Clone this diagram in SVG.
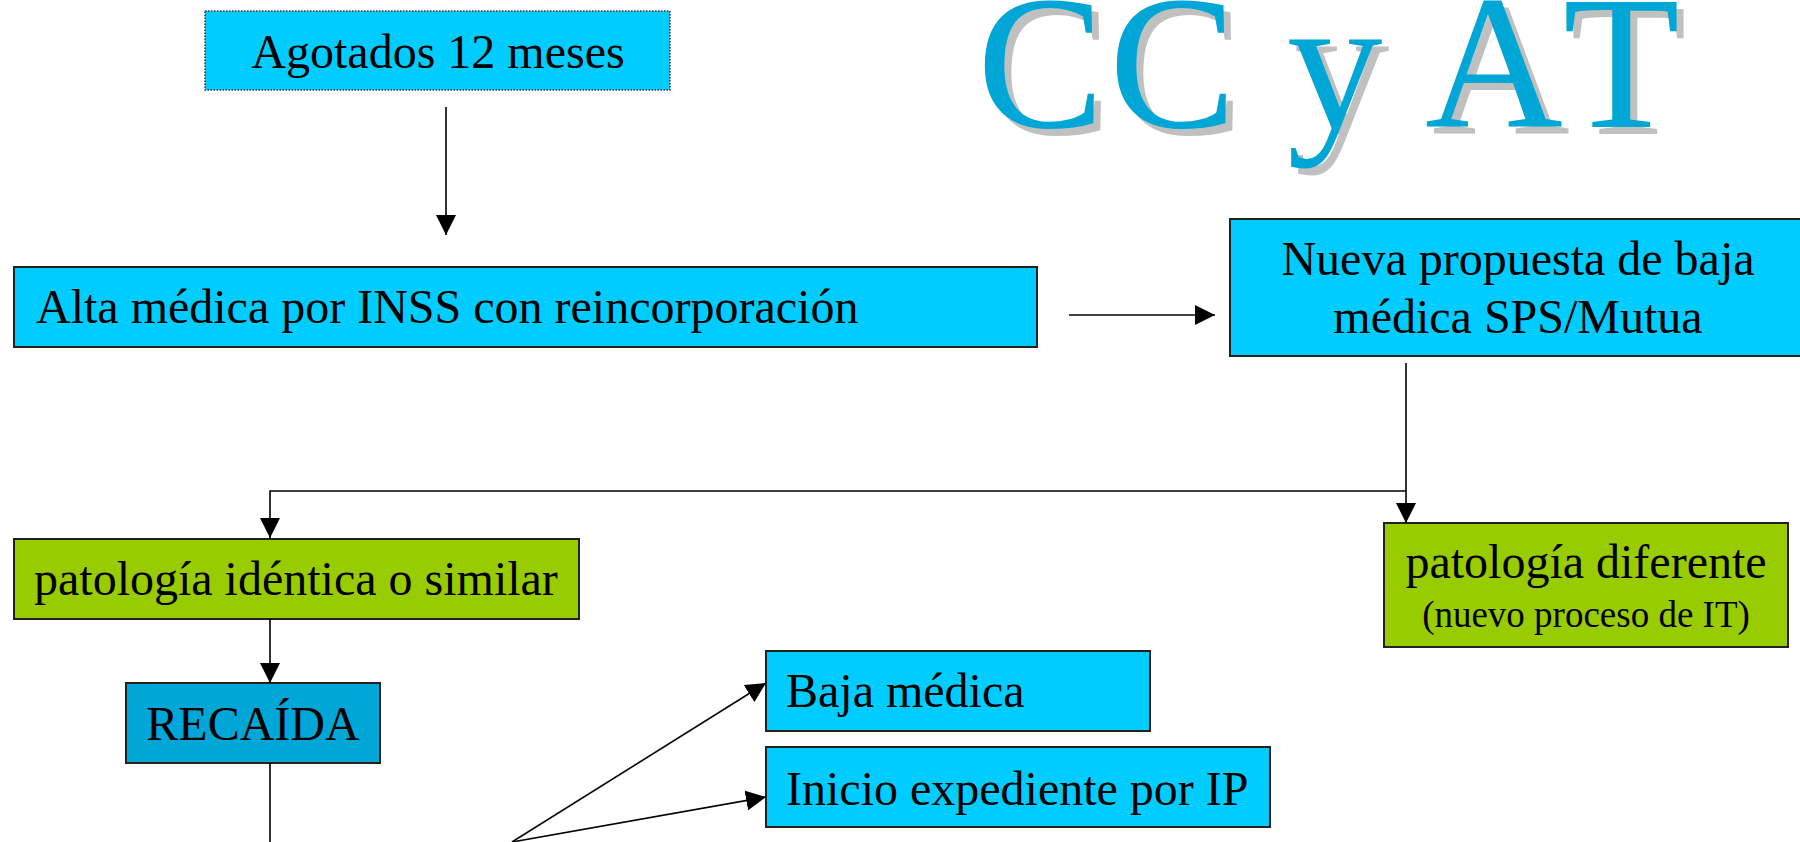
<svg xmlns="http://www.w3.org/2000/svg" width="1800" height="842" viewBox="0 0 1800 842">
<style>
.box{stroke:#222;stroke-width:2}
.cyan{fill:#00CCFF}
.dark{fill:#00A6D6}
.green{fill:#99CC00}
.t{font-family:"Liberation Serif","Times New Roman",serif;font-size:48px;fill:#000}
.s{font-family:"Liberation Serif","Times New Roman",serif;font-size:37px;fill:#000}
.title{font-family:"Liberation Serif","Times New Roman",serif;font-size:191px;font-kerning:none}
.conn{stroke:#000;stroke-width:1.6;fill:none}
</style>
<defs>
<marker id="ah" viewBox="0 0 20 20" refX="20" refY="10" markerWidth="20" markerHeight="20" markerUnits="userSpaceOnUse" orient="auto">
<path d="M0,0 L20,10 L0,20 z" fill="#000"/>
</marker>
</defs>
<rect width="1800" height="842" fill="#fff"/>
<g id="title">
<text class="title" x="984 1116 1247 1294 1387 1432 1570" y="134" fill="#C0C0C0">CC y AT</text>
<text class="title" x="977 1109 1240 1287 1380 1425 1563" y="127" fill="#00A6D6">CC y AT</text>
</g>
<g id="agotados">
<rect class="cyan" x="205" y="11" width="465" height="79" stroke="#333" stroke-width="1.5" stroke-dasharray="1.5,1.5"/>
<text class="t" x="438" y="68" text-anchor="middle">Agotados 12 meses</text>
</g>
<g id="alta">
<rect class="box cyan" x="14" y="267" width="1023" height="80"/>
<text class="t" x="36" y="323">Alta médica por INSS con reincorporación</text>
</g>
<g id="nueva">
<rect class="box cyan" x="1230" y="219" width="600" height="137"/>
<text class="t" x="1518" y="275" text-anchor="middle">Nueva propuesta de baja</text>
<text class="t" x="1518" y="333" text-anchor="middle">médica SPS/Mutua</text>
</g>
<g id="identica">
<rect class="box green" x="14" y="539" width="565" height="80"/>
<text class="t" x="34" y="595">patología idéntica o similar</text>
</g>
<g id="diferente">
<rect class="box green" x="1384" y="523" width="404" height="124"/>
<text class="t" x="1586" y="578" text-anchor="middle">patología diferente</text>
<text class="s" x="1586" y="627" text-anchor="middle">(nuevo proceso de IT)</text>
</g>
<g id="recaida">
<rect class="box dark" x="126" y="683" width="254" height="80"/>
<text class="t" x="253" y="740" text-anchor="middle">RECAÍDA</text>
</g>
<g id="baja">
<rect class="box cyan" x="766" y="651" width="384" height="80"/>
<text class="t" x="786" y="707">Baja médica</text>
</g>
<g id="inicio">
<rect class="box cyan" x="766" y="747" width="504" height="80"/>
<text class="t" x="786" y="805">Inicio expediente por IP</text>
</g>
<g id="connectors">
<path class="conn" d="M446 107 V235" marker-end="url(#ah)"/>
<path class="conn" d="M1069 315 H1215" marker-end="url(#ah)"/>
<path class="conn" d="M1406 363 V523" marker-end="url(#ah)"/>
<path class="conn" d="M1406 491 H270 V538" marker-end="url(#ah)"/>
<path class="conn" d="M270 619 V683" marker-end="url(#ah)"/>
<path class="conn" d="M270 763 V842"/>
<path class="conn" d="M512 842 L766 683" marker-end="url(#ah)"/>
<path class="conn" d="M512 842 L766 797" marker-end="url(#ah)"/>
</g>
</svg>
